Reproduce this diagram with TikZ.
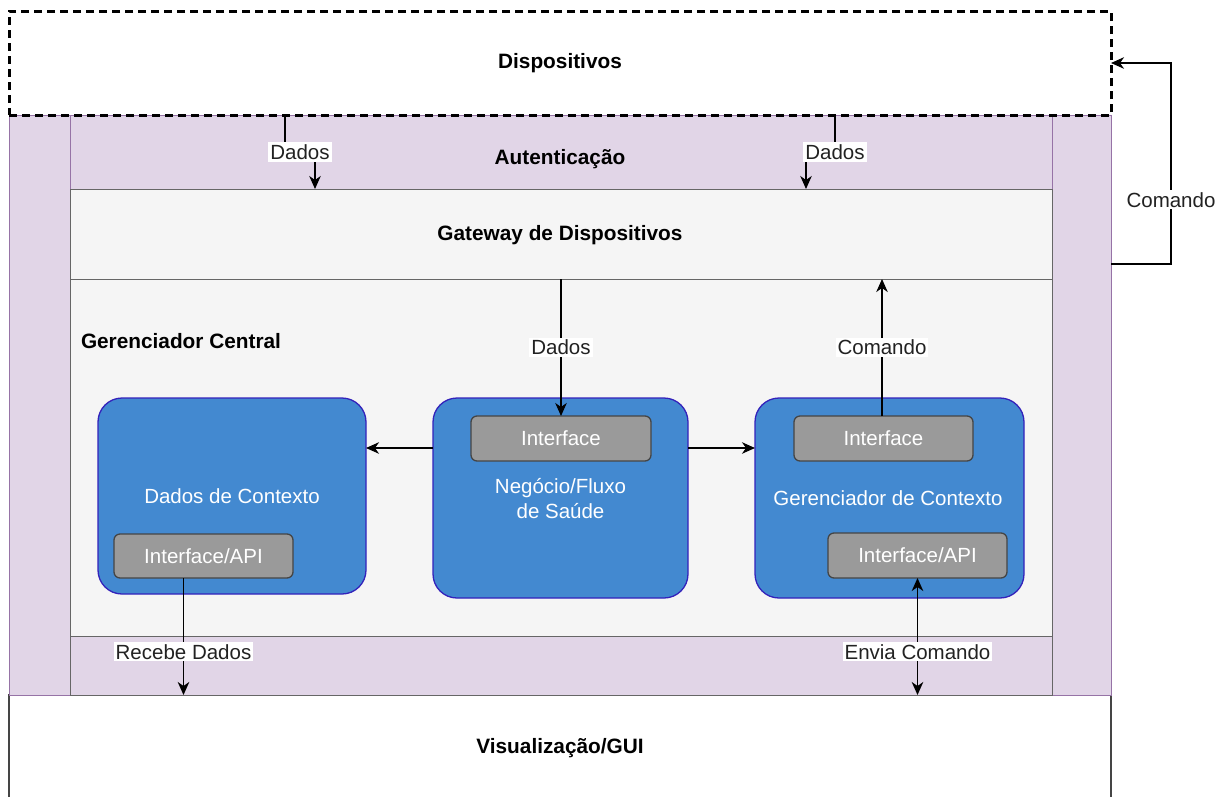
\documentclass[tikz,border=0pt]{standalone}
\usepackage{fontspec}
\setmainfont{Liberation Sans}
\usetikzlibrary{arrows.meta}
\definecolor{lilac}{HTML}{E1D5E7}
\definecolor{lilacline}{HTML}{9673A6}
\definecolor{panel}{HTML}{F5F5F5}
\definecolor{panelline}{HTML}{666666}
\definecolor{blockblue}{HTML}{4389D0}
\definecolor{blockline}{HTML}{3322BB}
\definecolor{ifgray}{HTML}{9A9A9A}
\definecolor{ifline}{HTML}{454545}
\definecolor{labeltext}{HTML}{222222}
\begin{document}
\begin{tikzpicture}[x=1pt,y=-1pt,
  every node/.style={inner sep=0pt,outer sep=0pt},
  region/.style={rectangle,draw=lilacline,fill=lilac,line width=1pt},
  layer/.style={rectangle,draw=panelline,fill=panel,line width=1pt},
  devbox/.style={rectangle,draw=black,fill=white,line width=3pt,dash pattern=on 8pt off 5pt},
  guibox/.style={rectangle,draw=ifline,fill=white,line width=1.6pt},
  block/.style={rectangle,rounded corners=24pt,draw=blockline,fill=blockblue,line width=1.3pt},
  blocktext/.style={text=white,align=center,font=\fontsize{20.5}{25}\selectfont},
  iface/.style={rectangle,rounded corners=6pt,draw=ifline,fill=ifgray,line width=1.3pt,
    text=white,font=\fontsize{20.5}{24}\selectfont},
  title/.style={font=\fontsize{20.8}{24}\selectfont\bfseries,text=black},
  lbl/.style={fill=white,inner sep=2pt,text=labeltext,font=\fontsize{20.5}{24}\selectfont},
  tip/.tip={Stealth[length=13pt,width=11.5pt,inset=4pt]},
  conn/.style={line width=1.6pt,-tip},
  conn2/.style={line width=1.6pt,tip-tip}]

\clip (0,0) rectangle (1232,796);
\fill[white] (0,0) rectangle (1232,796);

% bottom layer: visualisation, then the lilac frame around the core
\node[guibox,minimum width=1102pt,minimum height=104pt] (vis) at (560,747) {};
\node[title] (vist) at (560,748) {Visualização/GUI};
\node[region,minimum width=1102pt,minimum height=580pt] (frame) at (560,405) {};

% horizontal layers inside the frame
\node[region,minimum width=982pt,minimum height=74pt] (auth) at (561,152) {};
\node[layer,minimum width=982pt,minimum height=90pt] (gw) at (561,234) {};
\node[layer,minimum width=982pt,minimum height=357pt] (gc) at (561,457.5) {};
\node[rectangle,draw=panelline,fill=lilac,line width=1pt,minimum width=982pt,minimum height=59pt] (strip) at (561,665.5) {};

\node[title] (autht) at (560,159) {Autenticação};
\node[title] (gwt) at (560,235) {Gateway de Dispositivos};
\node[title,anchor=west] (gct) at (81,341) {Gerenciador Central};

% devices on top
\node[devbox,minimum width=1102pt,minimum height=104pt] (disp) at (560,63) {};
\node[title] (dispt) at (560,63) {Dispositivos};

% functional blocks
\node[block,minimum width=268pt,minimum height=196pt] (dc) at (232,496) {};
\node[blocktext] (dct) at (232,496) {Dados de Contexto};
\node[iface,minimum width=179pt,minimum height=44pt] (dcapi) at (203.5,556) {Interface/API};

\node[block,minimum width=255pt,minimum height=200pt] (neg) at (560.5,498) {};
\node[blocktext] (negt) at (560.5,499) {Negócio/Fluxo\\de Saúde};
\node[iface,minimum width=180pt,minimum height=45pt] (negif) at (561,438.5) {Interface};

\node[block,minimum width=269pt,minimum height=200pt] (gcx) at (889.5,498) {};
\node[blocktext] (gcxt) at (888,498) {Gerenciador de Contexto};
\node[iface,minimum width=179pt,minimum height=45pt] (gcxif) at (883.5,438.5) {Interface};
\node[iface,minimum width=179pt,minimum height=45pt] (gcxapi) at (917.5,555.5) {Interface/API};

% data from devices into the gateway
\draw[conn] ([xshift=276pt]disp.south west) -- ++(0,37) -- ++(30,0) node[lbl,midway]{Dados}
  -- ([xshift=245pt]auth.south west);
\draw[conn] ([xshift=-276pt]disp.south east) -- ++(0,37) -- node[lbl,pos=0]{Dados} ++(-29,0)
  -- ([xshift=-246pt]auth.south east);

% gateway <-> core
\draw[conn] (negif.north |- gw.south) -- node[lbl]{Dados} (negif.north);
\coordinate (up) at ([xshift=-1.5pt]gcxif.north);
\draw[conn] (up) -- node[lbl]{Comando} (up |- gw.south);

% business flow to neighbours
\coordinate (nl) at ([yshift=50pt]neg.west);
\coordinate (nr) at ([yshift=50pt]neg.east);
\draw[conn] (nl) -- (nl -| dc.east);
\draw[conn] (nr) -- (nr -| gcx.west);

% core <-> visualisation
\coordinate (rd) at ([xshift=-20pt]dcapi.south);
\draw[conn] (rd) -- node[lbl,pos=0.63]{Recebe Dados} (rd |- vis.north);
\draw[conn2] (gcxapi.south) -- node[lbl,pos=0.63]{Envia Comando} (gcxapi.south |- vis.north);

% command loop back to the devices
\coordinate (cm) at ([yshift=141pt]frame.east);
\draw[conn] (cm) -- ++(60,0) |- node[lbl,pos=0.16]{Comando} (disp.east);

\end{tikzpicture}
\end{document}
